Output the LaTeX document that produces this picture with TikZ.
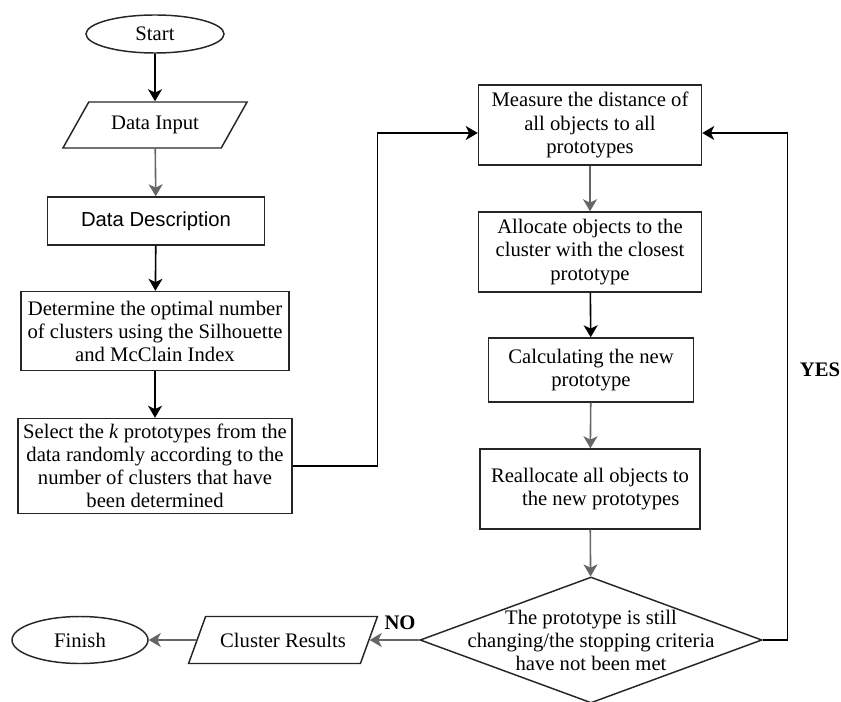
\documentclass[tikz,border=0pt]{standalone}
\usepackage{fontspec}
\setmainfont{Liberation Serif}
\setsansfont{Liberation Sans}
\usetikzlibrary{shapes.geometric,arrows.meta}

\begin{document}
\begin{tikzpicture}[x=0.75pt,y=-0.75pt,
		box/.style={draw=black!85, line width=1.1pt, align=center, inner sep=2pt, font=\fontsize{15.5}{17.3}\selectfont},
		io/.style={box, trapezium, trapezium left angle=52, trapezium right angle=128, trapezium stretches=true},
		term/.style={box, ellipse},
		arr/.style={-{Stealth[length=9pt,width=10.5pt,inset=2.5pt]}, line width=1.2pt},
		garr/.style={arr, draw=black!60},
		flag/.style={font=\bfseries\fontsize{15.5}{17.3}\selectfont}]
	\useasboundingbox (0,0) rectangle (841,702);
	% left column
	\node[term, minimum width=103.5pt, minimum height=28.5pt] (start) at (155,34) {Start};
	\node[io, minimum width=139.5pt, minimum height=34.5pt] (input) at (155,125) {Data Input};
	\node[box, minimum width=162.75pt, minimum height=36pt, font=\sffamily\fontsize{15.2}{18}\selectfont] (descr) at (156,221) {Data Description};
	\node[box, minimum width=201pt, minimum height=59.25pt] (optimal) at (155,331) {Determine the optimal number\\of clusters using the Silhouette\\and McClain Index};
	\node[box, minimum width=205.5pt, minimum height=71.25pt] (select) at (155,466) {Select the \textit{k} prototypes from the\\data randomly according to the\\number of clusters that have\\been determined};
	% right column
	\node[box, minimum width=167.25pt, minimum height=60pt] (measure) at (590,125) {Measure the distance of\\all objects to all\\prototypes};
	\node[box, minimum width=167.25pt, minimum height=60pt] (allocate) at (590,252) {Allocate objects to the\\cluster with the closest\\prototype};
	\node[box, minimum width=153.75pt, minimum height=48pt] (calc) at (591,370) {Calculating the new\\prototype};
	\node[box, minimum width=165pt, minimum height=60pt] (realloc) at (590,489) {Reallocate all objects to\\\hspace*{16pt}the new prototypes};
	\node[box, diamond, minimum width=256.5pt, minimum height=94.5pt, inner sep=0pt,
		label={[align=center, font=\fontsize{15.5}{17.3}\selectfont]center:The prototype is still\\changing/the stopping criteria\\have not been met}] (decide) at (591,640) {};
	% bottom row
	\node[io, trapezium left angle=54, trapezium right angle=126, minimum width=141.75pt, minimum height=35.25pt] (results) at (283,640) {Cluster Results};
	\node[term, minimum width=102pt, minimum height=35.25pt] (finish) at (80,640) {Finish};
	\node[flag] (no) at (400,623) {NO};
	\node[flag] (yes) at (820,370) {YES};

	\draw[arr] (start) -- (input);
	\draw[garr] (input) -- (descr);
	\draw[arr] (descr) -- (optimal);
	\draw[arr] (optimal) -- (select);
	\draw[arr, line width=1pt] (select.east) -- ++(85,0) |- ([yshift=-6pt]measure.west);
	\draw[garr] (measure) -- (allocate);
	\draw[arr] (allocate) -- (calc);
	\draw[garr] (calc) -- (realloc);
	\draw[garr] (realloc) -- (decide);
	\draw[arr, line width=1pt] (decide.east) -- ++(25,0) |- ([yshift=-6pt]measure.east);
	\draw[garr] (decide.west) -- (results.east);
	\draw[garr] (results.west) -- (finish.east);
\end{tikzpicture}
\end{document}
